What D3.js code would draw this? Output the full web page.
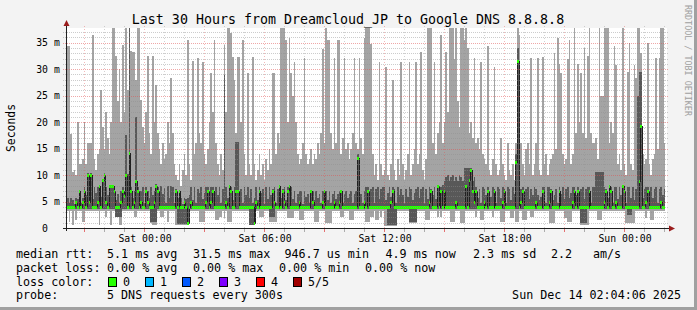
<!DOCTYPE html>
<html>
<head>
<meta charset="utf-8">
<script src="https://cdn.jsdelivr.net/npm/d3@7/dist/d3.min.js"></script>
<style>
  html, body { margin: 0; padding: 0; background: #f3f3f3; overflow: hidden; }
  svg { display: block; font-family: "DejaVu Sans Mono", monospace; }
</style>
</head>
<body>
<svg id="chart" width="697" height="310"></svg>
<script>
// one sample every 5 minutes, 30 hours, values in ms
const hiMs = [
  34.3,34.3,17.8,10.6,11,10,20,12,12,13,
  20,12,16,16,16,36.4,13,11,14,15,
  26,19,15,22,17,14,20,40,40,32.5,
  24,30,20,34.5,22,40,26,40,33.4,33.2,
  33.2,28,40,40,24.2,19,16,22,32.5,18,
  14,32.5,20,27,18,15,12,16,13,14,
  20,16,28.3,18,12,10,9,12,8,11,
  14,10,35.5,12,9,31.5,14,16,32.2,18,
  16,31.3,14,12,15,20,29.2,22,35.5,16,
  12,10,14,11,34.5,22,40,40,36.8,32.3,
  28,18,32.3,32.3,20,35.5,14,10,29.2,12,
  10,32.3,12,9,11,14,10,12,9,13,
  11,15,12,29.2,29.2,14,18,16,40,40,
  40,35.5,20,35.8,29.2,25,31.3,20,14,12,
  13,16,32.2,14,12,13,15,12,14,13,
  16,14,18,33.9,16,40,35.5,35.5,18,15,
  32.2,16,35.5,35.5,14,17,32.2,15,16,13,
  15,18,32.2,16,15,32.2,17,14,35.8,40,
  40,40,34.8,14,10,12,9,31.3,12,10,
  11,30.4,10,9,12,28,11,9,13,10,
  31.3,12,9,11,14,31.3,10,12,15,31.3,
  12,14,33.2,11,9,13,40,40,40,16,
  31.3,14,18,20,36.4,16,20,33.2,22,40,
  40,40,32,40,24,19,40,40,35.5,40,
  34,18,20,17,32.2,16,17,15,31.3,14,
  13,12,34.4,11,10,13,30.5,12,10,11,
  17,12,10,9,16,11,10,12,9,16,
  40,36.4,16,12,10,15,16,12,32.2,10,
  12,16,32.2,11,10,32.3,12,14,10,12,
  13,14,33,15,35.8,31,29.2,14,12,13,
  32,35.6,12,14,40,18,31,20,29.2,18,
  34,17,32.5,40,18,16,16,17,13,40,
  25,25,40,40,40,16,20,18,34.4,30.7,
  12,14,11,40,12,10,29.5,35,12,11,
  30.7,28.4,40,40,33,14,12,13,35,12,
  10,13,14,32.2,15,32.2,40,40,16,null
];

const q3Ms = [
  5.6,4.8,5.6,5.2,4.6,5.6,5.4,7.2,4.8,5.6,
  7.8,6.2,10.4,7.8,10.4,5.4,7.8,6.6,7.8,8.2,
  5.8,9.2,10.4,7.8,6.2,8.2,8.2,8.2,7.8,5.2,
  6.4,4.8,7.0,7.8,7.0,17.5,10.2,40,7.8,5.6,
  7.0,21.0,7.8,5.2,7.0,7.8,4.8,7.8,7.0,5.6,
  7.8,6.2,7.0,8.4,7.8,5.4,8.0,6.4,7.6,4.8,
  8.0,5.6,8.0,7.8,4.8,7.4,5.6,7.2,5.6,4.6,
  5.6,5.4,5.6,6.2,7.8,5.2,7.8,4.8,7.4,6.6,
  7.8,5.4,6.6,7.8,7.8,5.2,7.8,7.8,4.8,7.8,
  6.2,7.8,4.8,7.4,28.9,7.8,5.6,8.2,7.8,5.2,
  7.8,16.3,16.3,5.6,7.4,4.8,7.8,6.2,7.8,5.6,
  7.4,4.8,5.6,7.8,5.2,7.8,6.6,7.4,4.6,7.8,
  5.4,7.8,6.2,7.4,7.8,4.8,7.4,8.2,5.6,7.4,
  7.8,5.2,7.8,8.2,7.8,5.4,6.9,4.8,6.4,6.9,
  6.9,4.6,6.9,5.8,6.4,4.8,7.2,6.9,5.2,6.9,
  5.6,6.4,4.8,6.9,7.2,6.9,5.2,6.9,4.8,6.4,
  6.9,5.4,6.4,6.9,7.2,4.8,6.4,6.9,5.6,6.4,
  6.9,4.8,6.4,6.9,14.0,5.2,6.4,4.8,6.9,7.8,
  7.8,5.6,7.4,7.8,4.8,7.4,7.8,5.4,7.4,7.8,
  7.8,5.2,6.6,7.8,5.8,7.8,7.4,4.8,7.8,6.2,
  7.4,6.2,4.8,7.4,5.8,7.8,7.4,5.2,6.6,7.4,
  7.8,5.6,7.4,7.8,4.8,7.4,5.4,7.8,7.4,6.2,
  7.8,5.4,8.2,7.8,7.8,8.2,8.8,9.6,10.0,8.8,
  9.6,10.0,8.8,9.6,8.8,10.0,9.6,8.8,11.3,11.3,
  11.3,11.3,11.3,8.8,9.6,7.8,5.6,7.4,4.8,7.8,
  7.4,6.2,7.8,5.4,5.8,7.8,7.4,4.8,7.8,7.4,
  5.6,7.8,7.4,4.8,7.8,7.4,5.2,7.8,6.4,14.0,
  34.0,5.6,7.4,7.8,4.8,7.4,7.8,5.4,7.4,6.2,
  7.8,7.4,6.2,5.2,5.8,7.8,7.8,4.8,7.8,7.8,
  7.4,5.2,6.2,7.4,4.8,7.8,6.4,7.8,5.4,7.4,
  7.8,5.6,6.6,7.8,7.8,6.2,7.8,4.8,7.4,7.8,
  5.4,7.4,7.8,7.8,4.8,7.8,7.8,10.6,10.6,10.6,
  10.6,10.6,7.8,7.4,5.6,8.2,7.8,4.8,7.8,7.8,
  5.4,7.8,6.2,8.2,7.8,4.8,7.8,7.8,5.6,7.8,
  5.2,7.4,25.0,29.5,29.5,5.6,7.4,7.8,7.8,4.8,
  7.8,5.6,7.4,7.8,4.8,7.4,7.8,6.2,7.4,null
];

const medMs = [
  3.9,3.9,3.9,3.9,3.9,5.0,3.9,7.0,3.9,5.0,
  7.0,3.9,10,5.0,10,3.9,3.9,3.9,5.0,8.0,
  3.9,9.0,10,5.0,3.9,8.0,8.0,8.0,7.0,3.9,
  3.9,3.9,5.0,7.0,6.0,10,3.9,14.2,7.0,3.9,
  5.0,8.9,7.0,3.9,5.0,3.9,3.9,7.0,5.0,3.9,
  3.9,3.9,5.0,8.0,7.0,3.9,3.9,3.9,3.9,3.9,
  3.9,3.9,3.9,3.9,3.9,7.0,3.9,7.0,3.9,3.9,
  5.0,3.9,0.9,3.9,5.0,3.9,3.9,3.9,3.9,3.9,
  3.9,3.9,3.9,5.0,7.0,3.9,5.0,7.0,3.9,3.9,
  3.9,3.9,3.9,3.9,3.9,5.0,3.9,8.0,7.0,3.9,
  3.9,7.0,7.0,3.9,3.9,3.9,3.9,3.9,3.9,3.9,
  3.9,3.9,0.9,5.0,3.9,7.0,3.9,3.9,3.9,3.9,
  3.9,3.9,3.9,7.0,5.0,3.9,3.9,8.0,3.9,7.0,
  5.0,3.9,7.0,8.0,3.9,3.9,3.9,3.9,3.9,5.0,
  3.9,3.9,3.9,3.9,3.9,3.9,7.0,5.0,3.9,3.9,
  3.9,3.9,3.9,5.0,7.0,3.9,3.9,3.9,3.9,3.9,
  5.0,3.9,3.9,5.0,7.0,3.9,3.9,3.9,3.9,3.9,
  3.9,3.9,3.9,3.9,13.2,3.9,3.9,3.9,5.0,3.9,
  7.0,3.9,3.9,3.9,3.9,3.9,3.9,3.9,3.9,3.9,
  3.9,3.9,3.9,3.9,5.0,7.0,3.9,3.9,3.9,3.9,
  3.9,3.9,3.9,3.9,3.9,3.9,3.9,3.9,3.9,3.9,
  3.9,3.9,3.9,3.9,3.9,3.9,3.9,5.0,7.0,3.9,
  3.9,3.9,8.0,3.9,7.0,3.9,7.0,3.9,3.9,3.9,
  3.9,3.9,3.9,5.0,3.9,3.9,3.9,3.9,3.9,8.0,
  3.9,9.0,11.0,7.0,5.0,7.0,3.9,3.9,3.9,3.9,
  5.0,3.9,7.0,3.9,3.9,3.9,7.0,3.9,3.9,3.9,
  3.9,5.0,7.0,3.9,3.9,3.9,3.9,3.9,3.9,12.5,
  31.5,3.9,5.0,7.0,3.9,3.9,3.9,3.9,3.9,3.9,
  3.9,5.0,3.9,3.9,3.9,7.0,3.9,3.9,3.9,5.0,
  7.0,3.9,3.9,3.9,3.9,7.0,3.9,3.9,3.9,3.9,
  3.9,3.9,3.9,5.0,7.0,3.9,7.0,3.9,3.9,3.9,
  3.9,3.9,3.9,7.0,3.9,3.9,3.9,3.9,3.9,3.9,
  3.9,3.9,5.0,7.0,3.9,8.0,7.0,3.9,3.9,5.0,
  3.9,3.9,3.9,8.0,7.0,3.9,3.9,3.9,3.9,3.9,
  3.9,3.9,3.9,8.9,19.3,3.9,3.9,5.0,7.0,3.9,
  3.9,3.9,3.9,3.9,3.9,3.9,5.0,3.9,3.9,null
];

const q1Ms = [
  3.6,3.6,3.6,3.6,3.6,3.6,3.6,3.6,3.6,3.6,
  3.6,3.6,3.6,3.6,3.6,3.6,3.6,3.6,3.6,3.6,
  3.6,3.6,3.6,3.6,3.6,3.6,3.6,3.6,3.6,2.1,
  2.1,2.1,2.1,3.6,3.6,3.6,3.6,3.6,3.6,3.6,
  3.6,3.6,3.6,3.6,3.6,3.6,3.6,3.6,3.6,3.6,
  1.2,1.2,1.2,1.2,3.6,3.6,3.6,3.6,3.6,3.6,
  3.6,3.6,3.6,3.6,3.6,3.6,0.8,0.8,0.8,0.8,
  0.8,0.8,0.6,3.6,3.6,3.6,3.6,3.6,3.6,3.6,
  3.6,3.6,3.6,3.6,3.6,3.6,3.6,3.6,3.6,3.6,
  3.6,3.6,3.6,3.6,3.6,3.6,3.6,3.6,3.6,3.6,
  3.6,3.6,3.6,3.6,3.6,3.6,3.6,3.6,3.6,0.6,
  0.6,0.6,0.6,3.6,3.6,3.6,3.6,3.6,3.6,3.6,
  3.6,2.1,2.1,2.1,2.1,3.6,3.6,3.6,3.6,3.6,
  3.6,3.6,3.6,3.6,3.6,3.6,3.6,3.6,3.6,3.6,
  3.6,3.6,3.6,3.6,3.6,3.6,3.6,3.6,3.6,3.6,
  3.6,3.6,3.6,3.6,3.6,3.6,3.6,3.6,3.6,3.6,
  3.6,3.6,3.6,3.6,3.6,3.6,3.6,3.6,3.6,3.6,
  3.6,3.6,3.6,3.6,3.6,3.6,3.6,3.6,3.6,3.6,
  3.6,3.6,3.6,3.6,3.6,3.6,3.6,3.6,3.6,3.6,
  3.6,3.6,0.5,0.5,0.5,0.5,0.5,0.5,3.6,3.6,
  3.6,3.6,3.6,3.6,3.6,1.2,1.2,1.2,1.2,1.2,
  3.6,3.6,3.6,3.6,3.6,3.6,3.6,3.6,3.6,3.6,
  3.6,3.6,3.6,3.6,3.6,3.6,3.6,3.6,3.6,3.6,
  3.6,3.6,3.6,3.6,3.6,3.6,3.6,3.6,3.6,3.6,
  3.6,3.6,3.6,3.6,3.6,3.6,3.6,3.6,3.6,3.6,
  3.6,3.6,3.6,3.6,3.6,3.6,3.6,3.6,3.6,3.6,
  3.6,3.6,3.6,3.6,3.6,3.6,3.6,3.6,3.6,3.6,
  3.6,3.6,3.6,3.6,3.6,3.6,3.6,3.6,3.6,3.6,
  3.6,3.6,3.6,3.6,3.6,3.6,3.6,3.6,3.6,3.6,
  3.6,3.6,3.6,3.6,3.6,3.6,3.6,3.6,3.6,3.6,
  3.6,3.6,3.6,3.6,3.6,3.6,3.6,3.6,0.9,0.9,
  0.9,0.9,3.6,3.6,3.6,3.6,3.6,3.6,3.6,3.6,
  3.6,3.6,3.6,3.6,3.6,3.6,3.6,3.6,3.6,3.6,
  3.6,3.6,3.6,3.6,3.6,3.6,2.5,2.5,2.5,3.6,
  3.6,3.6,3.6,3.6,3.6,3.6,3.6,3.6,3.6,3.6,
  3.6,3.6,3.6,3.6,3.6,3.6,3.6,3.6,3.6,null
];

const loMs = [
  3.2,1.2,3.2,0.6,3.3,1.5,3.2,3.3,3.2,1.2,
  1.2,3.2,3.3,3.2,3.2,3.3,3.2,3.2,3.3,0.6,
  3.2,3.3,3.2,2.1,3.2,3.3,0.6,3.2,3.2,2.0,
  2.0,0.6,0.6,3.2,3.3,3.2,3.2,3.3,3.2,3.2,
  2.1,2.1,3.2,3.3,3.2,3.2,3.3,3.2,3.2,3.3,
  1.0,0.6,0.6,0.6,3.2,3.3,2.1,2.1,3.2,3.3,
  1.2,3.2,3.3,3.2,3.2,0.6,0.6,0.6,0.6,0.6,
  0.6,0.6,0.5,3.2,3.3,3.2,3.2,3.3,3.2,1.2,
  1.2,1.2,1.2,3.2,3.3,3.2,3.2,3.3,3.2,1.5,
  1.5,2.1,2.1,3.2,1.8,3.3,1.2,1.2,1.2,3.2,
  3.3,3.2,3.2,3.3,3.2,3.2,3.3,3.2,3.2,0.6,
  0.6,0.6,0.5,3.2,3.3,2.1,2.1,2.1,3.2,3.3,
  3.2,1.2,1.2,1.2,1.2,1.2,3.2,3.3,3.2,3.2,
  3.3,3.2,1.8,1.8,1.8,1.8,3.2,3.3,3.2,1.5,
  1.5,1.5,3.2,3.3,3.2,3.2,3.3,3.2,1.2,1.2,
  1.2,3.2,3.3,3.2,3.2,0.9,0.9,0.9,0.9,3.2,
  3.3,3.2,3.2,3.3,2.1,2.1,3.2,3.2,3.3,1.5,
  1.5,1.5,3.2,3.3,3.2,3.2,3.3,3.2,3.2,1.2,
  1.2,1.2,2.1,2.1,3.2,1.5,1.5,3.2,2.1,3.2,
  0.3,0.3,0.3,0.3,0.3,0.3,0.3,0.3,3.2,3.3,
  3.2,3.2,3.3,3.2,3.2,1.0,1.0,1.0,1.0,1.0,
  3.2,3.3,3.2,3.2,3.3,1.5,1.5,1.5,3.2,3.2,
  3.3,3.2,2.1,3.2,2.1,3.3,3.2,3.2,3.3,3.2,
  1.2,1.2,1.2,3.2,3.3,3.2,0.9,0.9,0.9,3.2,
  3.3,3.2,3.2,3.3,3.2,2.1,3.2,3.3,1.5,1.5,
  3.2,3.3,3.2,3.2,3.3,2.1,3.2,3.2,3.3,3.2,
  1.2,1.2,1.2,3.2,3.3,3.2,1.8,1.8,3.2,1.2,
  1.2,3.2,3.3,1.5,1.5,1.5,3.2,3.3,2.1,2.1,
  3.2,3.3,3.2,3.2,3.3,3.2,3.2,3.3,3.2,0.9,
  0.9,0.9,0.9,3.2,3.3,3.2,3.2,3.3,1.8,1.8,
  1.2,1.2,1.2,3.2,3.3,3.2,3.2,3.3,0.6,0.6,
  0.6,0.6,0.6,3.2,3.3,3.2,3.2,3.3,1.5,1.5,
  1.5,3.2,3.3,3.2,3.2,3.3,3.2,3.2,3.3,3.2,
  3.2,3.3,3.2,3.2,3.3,0.9,0.9,0.9,0.9,0.9,
  0.9,3.2,3.3,3.2,3.2,3.3,3.2,1.8,3.2,3.3,
  1.5,1.5,3.2,3.3,3.2,3.2,3.3,3.2,3.2,null
];

const yTicks = [0, 5, 10, 15, 20, 25, 30, 35];
const timeLabels = ["Sat 00:00", "Sat 06:00", "Sat 12:00", "Sat 18:00", "Sun 00:00"];
const timeLabelHours = [0, 6, 12, 18, 24];
const lossLabels = ["0", "1", "2", "3", "4", "5/5"];
const lossColors = ["#26ff00", "#00b8ff", "#0059ff", "#7e00ff", "#ff0000", "#a10000"];

const legendRtt = [["median rtt:", 16], ["5.1 ms avg", 107], ["31.5 ms max", 193], ["946.7 us min", 284.5], ["4.9 ms now", 385.5], ["2.3 ms sd", 473], ["2.2", 551], ["am/s", 593]];
const legendLoss = [["packet loss:", 16], ["0.00 % avg", 107], ["0.00 % max", 193], ["0.00 % min", 279], ["0.00 % now", 365]];

// hours are counted from Sat 00:00
const startHour = -3.85;
const stepHours = 5 / 60;
const yMax = 37.78;

const svg = d3.select("#chart");

const x = d3.scaleLinear().domain([startHour, startHour + 30]).range([67, 667]);
const y = d3.scaleLinear().domain([0, yMax]).range([228, 28]);

const steps = hiMs.map((hi, i) => ({
  hi: hi,
  q3: q3Ms[i],
  med: medMs[i],
  q1: q1Ms[i],
  lo: loMs[i],
  x0: Math.round(x(startHour + i * stepHours)),
  x1: Math.round(x(startHour + (i + 1) * stepHours))
})).filter(d => d.hi !== null);

// background, shading and canvas
svg.append("rect").attr("width", 697).attr("height", 310).attr("fill", "#f3f3f3");
svg.append("rect").attr("x", 694).attr("y", 0).attr("width", 3).attr("height", 310).attr("fill", "#a0a0a0");
svg.append("rect").attr("x", 0).attr("y", 307).attr("width", 697).attr("height", 3).attr("fill", "#a0a0a0");
svg.append("rect")
  .attr("x", x.range()[0]).attr("y", y.range()[1])
  .attr("width", x.range()[1] - x.range()[0])
  .attr("height", y.range()[0] - y.range()[1])
  .attr("fill", "#ffffff");

// smoke: outer pings light, inner pings dark
const smoke = svg.append("g").attr("shape-rendering", "crispEdges");

smoke.selectAll("rect.outer")
  .data(steps)
  .enter()
  .append("rect")
  .attr("class", "outer")
  .attr("x", d => d.x0)
  .attr("width", d => d.x1 - d.x0)
  .attr("y", d => Math.round(y(Math.min(d.hi, yMax))))
  .attr("height", d => Math.round(y(d.lo)) - Math.round(y(Math.min(d.hi, yMax))))
  .attr("fill", "#a4a4a4");

smoke.selectAll("rect.inner")
  .data(steps)
  .enter()
  .append("rect")
  .attr("class", "inner")
  .attr("x", d => d.x0)
  .attr("width", d => d.x1 - d.x0)
  .attr("y", d => Math.round(y(Math.min(d.q3, yMax))))
  .attr("height", d => Math.round(y(d.q1)) - Math.round(y(Math.min(d.q3, yMax))))
  .attr("fill", "#585858");

// median: dark step line with loss coloured band on top
const medPts = steps.map(d => [d.x0, Math.round(y(d.med)) + 0.5]);
medPts.push([steps[steps.length - 1].x1, medPts[medPts.length - 1][1]]);

svg.append("path")
  .attr("d", d3.line().curve(d3.curveStepAfter)(medPts))
  .attr("fill", "none")
  .attr("stroke", "#202020")
  .attr("stroke-width", 1)
  .attr("shape-rendering", "crispEdges");

svg.append("g")
  .attr("shape-rendering", "crispEdges")
  .selectAll("rect")
  .data(steps)
  .enter()
  .append("rect")
  .attr("x", d => d.x0)
  .attr("width", d => d.x1 - d.x0)
  .attr("y", d => Math.round(y(d.med)) - 1)
  .attr("height", 3)
  .attr("fill", lossColors[0]);

// grid
const grid = svg.append("g").attr("shape-rendering", "crispEdges");
const minorMs = d3.range(1, Math.floor(yMax) + 1);
const hourMarks = d3.range(Math.ceil(startHour), Math.floor(startHour + 30) + 1);

grid.selectAll("line.hgrid")
  .data(minorMs)
  .enter()
  .append("line")
  .attr("x1", 63).attr("x2", 669)
  .attr("y1", d => Math.round(y(d)) + 0.5)
  .attr("y2", d => Math.round(y(d)) + 0.5)
  .attr("stroke", d => d % 5 === 0 ? "rgba(224,80,80,0.5)" : "rgba(143,143,143,0.45)")
  .attr("stroke-dasharray", "1,1");

grid.selectAll("line.vgrid")
  .data(hourMarks)
  .enter()
  .append("line")
  .attr("y1", 26).attr("y2", 228)
  .attr("x1", d => Math.round(x(d)) + 0.5)
  .attr("x2", d => Math.round(x(d)) + 0.5)
  .attr("stroke", d => d % 3 === 0 ? "rgba(224,80,80,0.4)" : "rgba(143,143,143,0.4)")
  .attr("stroke-dasharray", "1,2");

grid.selectAll("line.tick")
  .data(hourMarks)
  .enter()
  .append("line")
  .attr("y1", 229).attr("y2", 232)
  .attr("x1", d => Math.round(x(d)) + 0.5)
  .attr("x2", d => Math.round(x(d)) + 0.5)
  .attr("stroke", d => d % 3 === 0 ? "rgba(224,80,80,0.8)" : "rgba(143,143,143,0.7)");

// axes with arrows
svg.append("line")
  .attr("x1", 63).attr("x2", 671)
  .attr("y1", 228.5).attr("y2", 228.5)
  .attr("stroke", "#202020")
  .attr("shape-rendering", "crispEdges");
svg.append("line")
  .attr("x1", 66.5).attr("x2", 66.5)
  .attr("y1", 231).attr("y2", 24)
  .attr("stroke", "#202020")
  .attr("shape-rendering", "crispEdges");
svg.append("path").attr("d", "M63.5,26L69.5,26L66.5,20Z").attr("fill", "#9a1c1c");
svg.append("path").attr("d", "M669,225.5L669,231.5L675,228.5Z").attr("fill", "#9a1c1c");

// y labels
const yLab = svg.append("g").style("font-size", "9.8px").attr("fill", "#000");
yLab.selectAll("text.num")
  .data(yTicks)
  .enter()
  .append("text")
  .attr("x", 48)
  .attr("y", d => y(d) + 3.5)
  .attr("text-anchor", "end")
  .text(d => d);
yLab.selectAll("text.unit")
  .data(yTicks.filter(d => d > 0))
  .enter()
  .append("text")
  .attr("x", 54)
  .attr("y", d => y(d) + 3.5)
  .text("m");

// time labels
svg.append("g")
  .style("font-size", "9.8px")
  .selectAll("text")
  .data(timeLabelHours)
  .enter()
  .append("text")
  .attr("x", d => x(d) + 1)
  .attr("y", 241.5)
  .attr("text-anchor", "middle")
  .text((d, i) => timeLabels[i]);

// title, axis title, watermark
svg.append("text")
  .attr("x", 348).attr("y", 23.5)
  .attr("text-anchor", "middle")
  .style("font-size", "13.3px")
  .text("Last 30 Hours from Dreamcloud_JP to Google DNS 8.8.8.8");

svg.append("text")
  .attr("transform", "translate(15,128) rotate(-90)")
  .attr("text-anchor", "middle")
  .style("font-size", "11.4px")
  .text("Seconds");

svg.append("text")
  .attr("transform", "translate(685,5) rotate(90)")
  .style("font-size", "8.4px")
  .attr("fill", "#a0a0a0")
  .text("RRDTOOL / TOBI OETIKER");

// legend
const legend = svg.append("g").style("font-size", "11.7px");

legend.selectAll("text.rtt")
  .data(legendRtt)
  .enter()
  .append("text")
  .attr("x", d => d[1]).attr("y", 258.3)
  .text(d => d[0]);

legend.selectAll("text.loss")
  .data(legendLoss)
  .enter()
  .append("text")
  .attr("x", d => d[1]).attr("y", 271.8)
  .text(d => d[0]);

legend.append("text").attr("x", 16).attr("y", 285.6).text("loss color:");

const swatch = legend.selectAll("g.swatch")
  .data(lossLabels)
  .enter()
  .append("g")
  .attr("transform", (d, i) => `translate(${108 + i * 37},0)`);
swatch.append("rect")
  .attr("x", 0.5).attr("y", 277.5)
  .attr("width", 8).attr("height", 9)
  .attr("fill", (d, i) => lossColors[i])
  .attr("stroke", "#000")
  .attr("shape-rendering", "crispEdges");
swatch.append("text")
  .attr("x", 15).attr("y", 285.6)
  .text(d => d);

legend.append("text").attr("x", 16).attr("y", 299).text("probe:");
legend.append("text").attr("x", 107).attr("y", 299).text("5 DNS requests every 300s");
legend.append("text").attr("x", 681).attr("y", 299).attr("text-anchor", "end").text("Sun Dec 14 02:04:06 2025");
</script>
</body>
</html>
